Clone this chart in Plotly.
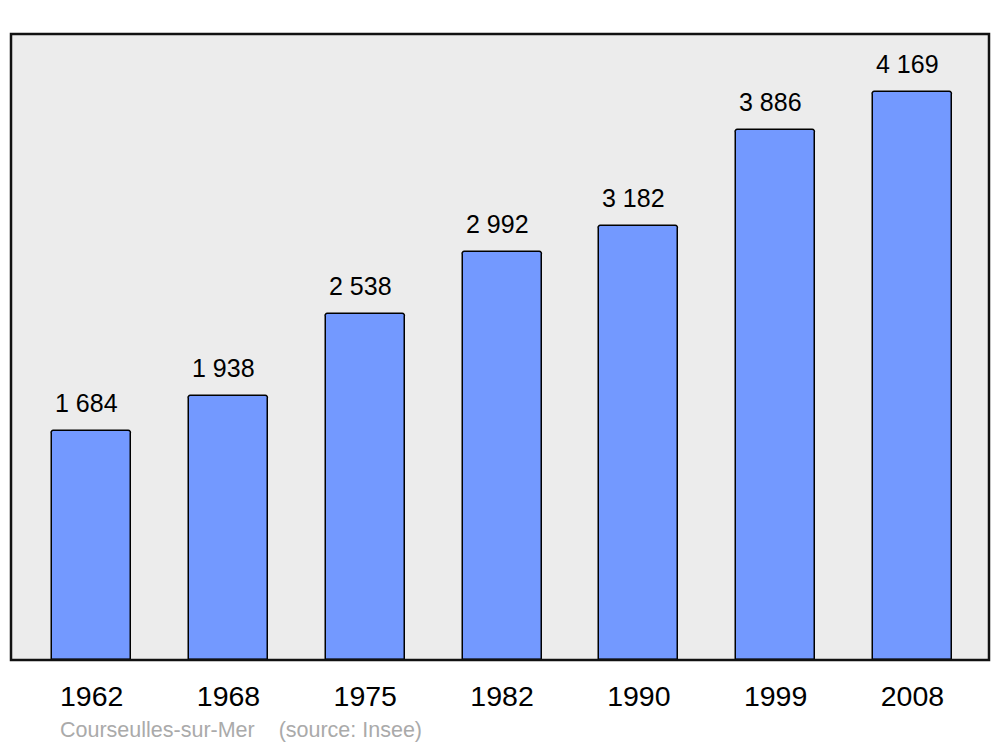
import plotly.graph_objects as go

years = ["1962", "1968", "1975", "1982", "1990", "1999", "2008"]
population = [1684, 1938, 2538, 2992, 3182, 3886, 4169]
value_labels = ["1 684", "1 938", "2 538", "2 992", "3 182", "3 886", "4 169"]

BAR_COLOR = "#7399FF"
PLOT_BG = "#ECECEC"
FONT = "Liberation Sans, Arial, sans-serif"

fig = go.Figure(go.Bar(
    x=years, y=population, width=0.578,
    marker=dict(color=BAR_COLOR, line=dict(color="#000000", width=1.5), cornerradius=3),
    hoverinfo="skip",
))

# value labels above each bar (category index on x)
for i, (val, lab) in enumerate(zip(population, value_labels)):
    fig.add_annotation(x=i, y=val, text=lab, showarrow=False, yshift=28, xshift=-5,
                       font=dict(size=25, color="#000000", family=FONT))

fig.add_annotation(xref="paper", yref="paper", x=0.048, y=-0.112, xanchor="left", yanchor="middle",
                   text="Courseulles-sur-Mer&nbsp;&nbsp;&nbsp;&nbsp;(source: Insee)",
                   showarrow=False, font=dict(size=21.5, color="#AAAAAA", family=FONT))

fig.update_xaxes(type="category", range=[-0.59, 6.56], showgrid=False, zeroline=False, showline=False,
                 ticks="outside", ticklen=11, tickcolor="rgba(0,0,0,0)",
                 tickfont=dict(size=28.5, color="#000000", family=FONT))
fig.update_yaxes(range=[0, 4594], showgrid=False, zeroline=False, showticklabels=False, showline=False)

fig.add_shape(type="rect", xref="paper", yref="paper", x0=0, x1=1, y0=0, y1=1,
              line=dict(color="#111111", width=2.5), layer="above")

fig.update_layout(
    width=1000, height=747,
    margin=dict(l=11, r=11, t=34, b=87),
    paper_bgcolor="#FFFFFF", plot_bgcolor=PLOT_BG,
    showlegend=False, bargap=0,
    font=dict(family=FONT),
)

fig.write_html("out.html", config={"displayModeBar": False},
               post_script="document.body.style.margin='0';")
